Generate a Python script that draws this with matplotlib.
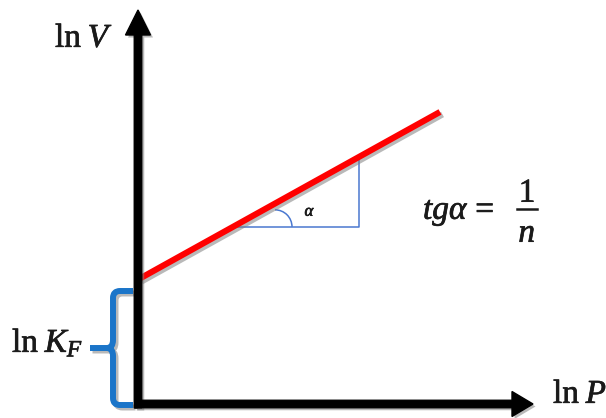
import numpy as np
import matplotlib
matplotlib.use("Agg")
import matplotlib.pyplot as plt
import matplotlib.patheffects as pe
from matplotlib.path import Path
from matplotlib.patches import PathPatch, FancyArrow, Arc

plt.rcParams["mathtext.fontset"] = "custom"
plt.rcParams["mathtext.rm"] = "Liberation Serif"
plt.rcParams["mathtext.it"] = "Liberation Serif:italic"

# Freundlich isotherm in linear form: ln V = ln K_F + (1/n) ln P
ln_KF = 1.25          # intercept on the ln V axis
inv_n = 0.555         # slope 1/n
lnP_line = [0.0, 3.01]

# slope triangle (base along ln P)
tri_x = [0.94, 2.20]

# axis extents
x_axis_end = 3.94
y_axis_end = 3.94

# brace marking ln K_F
brace_lo, brace_hi = -0.01, 1.13

RED = "#ff0000"
BLUE = "#1b75c9"
TRI = "#4a78d0"
TXT = "#1a1a1a"
shadow = [pe.SimpleLineShadow(offset=(1.8, -1.8), shadow_color="#808080", alpha=0.55), pe.Normal()]
pshadow = [pe.SimplePatchShadow(offset=(1.8, -1.8), shadow_rgbFace="#808080", alpha=0.55), pe.Normal()]
bold_txt = [pe.withStroke(linewidth=0.5, foreground=TXT)]

fig = plt.figure(figsize=(6.06, 4.18), dpi=100)
ax = fig.add_axes([0, 0, 1, 1])
ax.set_xlim(-1.39, 4.67)
ax.set_ylim(-0.14, 4.04)
ax.axis("off")

# regression line
xl = np.array(lnP_line)
ax.plot(xl, ln_KF + inv_n * xl, color=RED, lw=4.4, solid_capstyle="butt",
        path_effects=shadow, zorder=3)

# slope triangle
x0, x1 = tri_x
y0 = ln_KF + inv_n * x0
y1 = ln_KF + inv_n * x1
ax.plot([x0, x1, x1], [y0, y0, y1], color=TRI, lw=1.1, zorder=2)
ax.add_patch(Arc((x0 + 0.42, y0), 0.34, 0.34, theta1=0, theta2=90,
                 color=TRI, lw=1.1, zorder=2))
ax.text(x0 + 0.77, y0 + 0.16, r"$\alpha$", fontsize=12, color=TXT,
        ha="center", va="center", path_effects=bold_txt)

# axes arrows
ax.add_patch(FancyArrow(-0.01, -0.04, 0, y_axis_end + 0.04, width=0.075,
                        head_width=0.25, head_length=0.25,
                        length_includes_head=True, color="black",
                        path_effects=pshadow, zorder=4))
ax.add_patch(FancyArrow(-0.04, 0.0, x_axis_end + 0.04, 0, width=0.075,
                        head_width=0.25, head_length=0.21,
                        length_includes_head=True, color="black",
                        path_effects=pshadow, zorder=4))

# curly brace for ln K_F
bx, btip, bend = -0.26, -0.49, -0.06
mid = (brace_lo + brace_hi) / 2
r = 0.07
verts = [(bend, brace_hi), (bx + r, brace_hi), (bx, brace_hi), (bx, brace_hi - r),
         (bx, mid + 0.08), (bx, mid), (bx - 0.06, mid), (btip, mid),
         (bx - 0.06, mid), (bx, mid), (bx, mid - 0.08),
         (bx, brace_lo + r), (bx, brace_lo), (bx + r, brace_lo), (bend, brace_lo)]
codes = [Path.MOVETO, Path.LINETO, Path.CURVE3, Path.CURVE3,
         Path.LINETO, Path.CURVE3, Path.CURVE3, Path.LINETO,
         Path.MOVETO, Path.CURVE3, Path.CURVE3,
         Path.LINETO, Path.CURVE3, Path.CURVE3, Path.LINETO]
ax.add_patch(PathPatch(Path(verts, codes), fill=False, edgecolor=BLUE, lw=4.3,
                       capstyle="butt", joinstyle="round",
                       path_effects=shadow, zorder=3))

# labels
ax.text(-0.84, 3.57, r"$\mathrm{ln}\;V$", fontsize=24, color=TXT, va="baseline",
        path_effects=bold_txt)
ax.text(-1.27, 0.52, r"$\mathrm{ln}\;K_F$", fontsize=24, color=TXT, va="baseline",
        path_effects=bold_txt)
ax.text(4.14, 0.01, r"$\mathrm{ln}\;P$", fontsize=24, color=TXT, va="baseline",
        path_effects=bold_txt)

ax.text(2.84, 1.85, r"$tg\alpha\,=$", fontsize=24, color=TXT, va="baseline",
        path_effects=bold_txt)
ax.text(3.88, 2.02, r"$1$", fontsize=24, color=TXT, va="baseline", ha="center",
        path_effects=bold_txt)
ax.plot([3.78, 3.98], [1.95, 1.95], color=TXT, lw=1.8)
ax.text(3.88, 1.62, r"$n$", fontsize=24, color=TXT, va="baseline", ha="center",
        path_effects=bold_txt)

fig.savefig("out.png", dpi=100)
